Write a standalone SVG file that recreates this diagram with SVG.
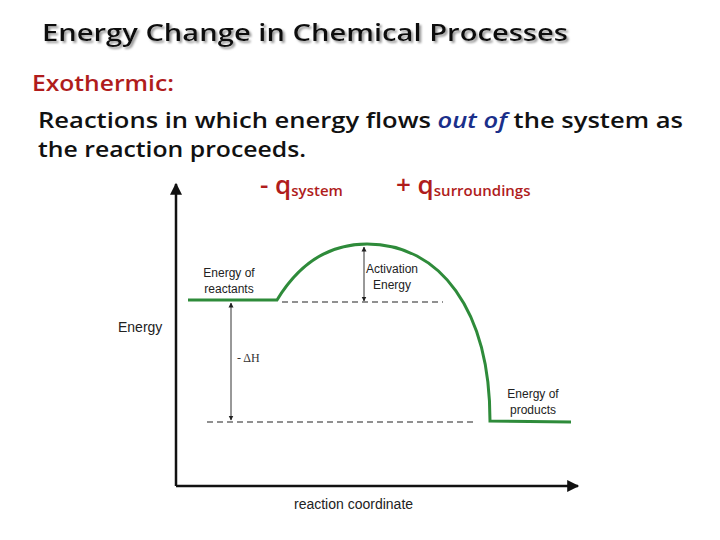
<svg xmlns="http://www.w3.org/2000/svg" width="720" height="540" viewBox="0 0 720 540">
<style>
.h{font-family:"Open Sans","Noto Sans",sans-serif;font-weight:600}
.s{font-family:"Liberation Sans",Arial,sans-serif;font-size:12px;fill:#222}
.big{font-size:14px}
.r{fill:#b01c1c}
.d{stroke:#222;stroke-width:1.2;stroke-dasharray:6 4;fill:none}
.a{stroke:#333;stroke-width:1;fill:none}
</style>
<defs>
<marker id="m" viewBox="0 0 10 10" refX="9" refY="5" markerWidth="5" markerHeight="6" orient="auto-start-reverse"><path d="M0,0L10,5L0,10z" fill="#222"/></marker>
<marker id="big" viewBox="0 0 10 10" refX="9" refY="5" markerWidth="14" markerHeight="12" markerUnits="userSpaceOnUse" orient="auto"><path d="M0,0L10,5L0,10z" fill="#111"/></marker>
<filter id="sh" x="-5%" y="-20%" width="110%" height="150%"><feDropShadow dx="2" dy="2" stdDeviation="0.8" flood-color="#999"/></filter>
</defs>
<rect width="720" height="540" fill="#fff"/>
<g id="title">
<text class="h" x="42" y="41" font-size="24" fill="#111" filter="url(#sh)" textLength="526" lengthAdjust="spacingAndGlyphs">Energy Change in Chemical Processes</text>
</g>
<g id="text">
<text class="h r" x="32" y="91" font-size="21" textLength="142" lengthAdjust="spacingAndGlyphs">Exothermic:</text>
<text class="h" x="38" y="128" font-size="21" fill="#111" textLength="645" lengthAdjust="spacingAndGlyphs">Reactions in which energy flows <tspan fill="#1a2f8a" font-style="italic">out of</tspan> the system  as</text>
<text class="h" x="38" y="157" font-size="21" fill="#111" textLength="268" lengthAdjust="spacingAndGlyphs">the reaction proceeds.</text>
<text class="h r" x="260" y="194" font-size="26" font-weight="700">- q<tspan font-size="15" dy="2">system</tspan></text>
<text class="h r" x="396" y="194" font-size="26" font-weight="700">+ q<tspan font-size="15" dy="2">surroundings</tspan></text>
</g>
<g id="axes">
<line x1="176" y1="486" x2="176" y2="184" stroke="#111" stroke-width="2.5" marker-end="url(#big)"/>
<line x1="176" y1="486" x2="578" y2="486" stroke="#111" stroke-width="2.5" marker-end="url(#big)"/>
<text class="s big" x="118" y="332">Energy</text>
<text class="s big" x="294" y="509">reaction coordinate</text>
</g>
<g id="curve">
<path d="M188,300 L277,300 C300,262 330,244 367,244 C440,244 490,310 490,421 L571,422" fill="none" stroke="#2e8b3a" stroke-width="3"/>
</g>
<g id="connectors">
<line class="d" x1="282" y1="302" x2="443" y2="302"/>
<line class="d" x1="207" y1="422" x2="476" y2="422"/>
<line class="a" x1="364" y1="247" x2="364" y2="301" marker-start="url(#m)" marker-end="url(#m)"/>
<line class="a" x1="231" y1="303" x2="231" y2="420" marker-start="url(#m)" marker-end="url(#m)"/>
</g>
<g id="labels">
<text class="s" x="229" y="277" text-anchor="middle">Energy of</text>
<text class="s" x="229" y="293" text-anchor="middle">reactants</text>
<text class="s" x="392" y="273" text-anchor="middle">Activation</text>
<text class="s" x="392" y="289" text-anchor="middle">Energy</text>
<text x="237" y="362" font-family="Liberation Serif,serif" font-size="12" fill="#333">- ΔH</text>
<text class="s" x="533" y="398" text-anchor="middle">Energy of</text>
<text class="s" x="533" y="414" text-anchor="middle">products</text>
</g>
</svg>
